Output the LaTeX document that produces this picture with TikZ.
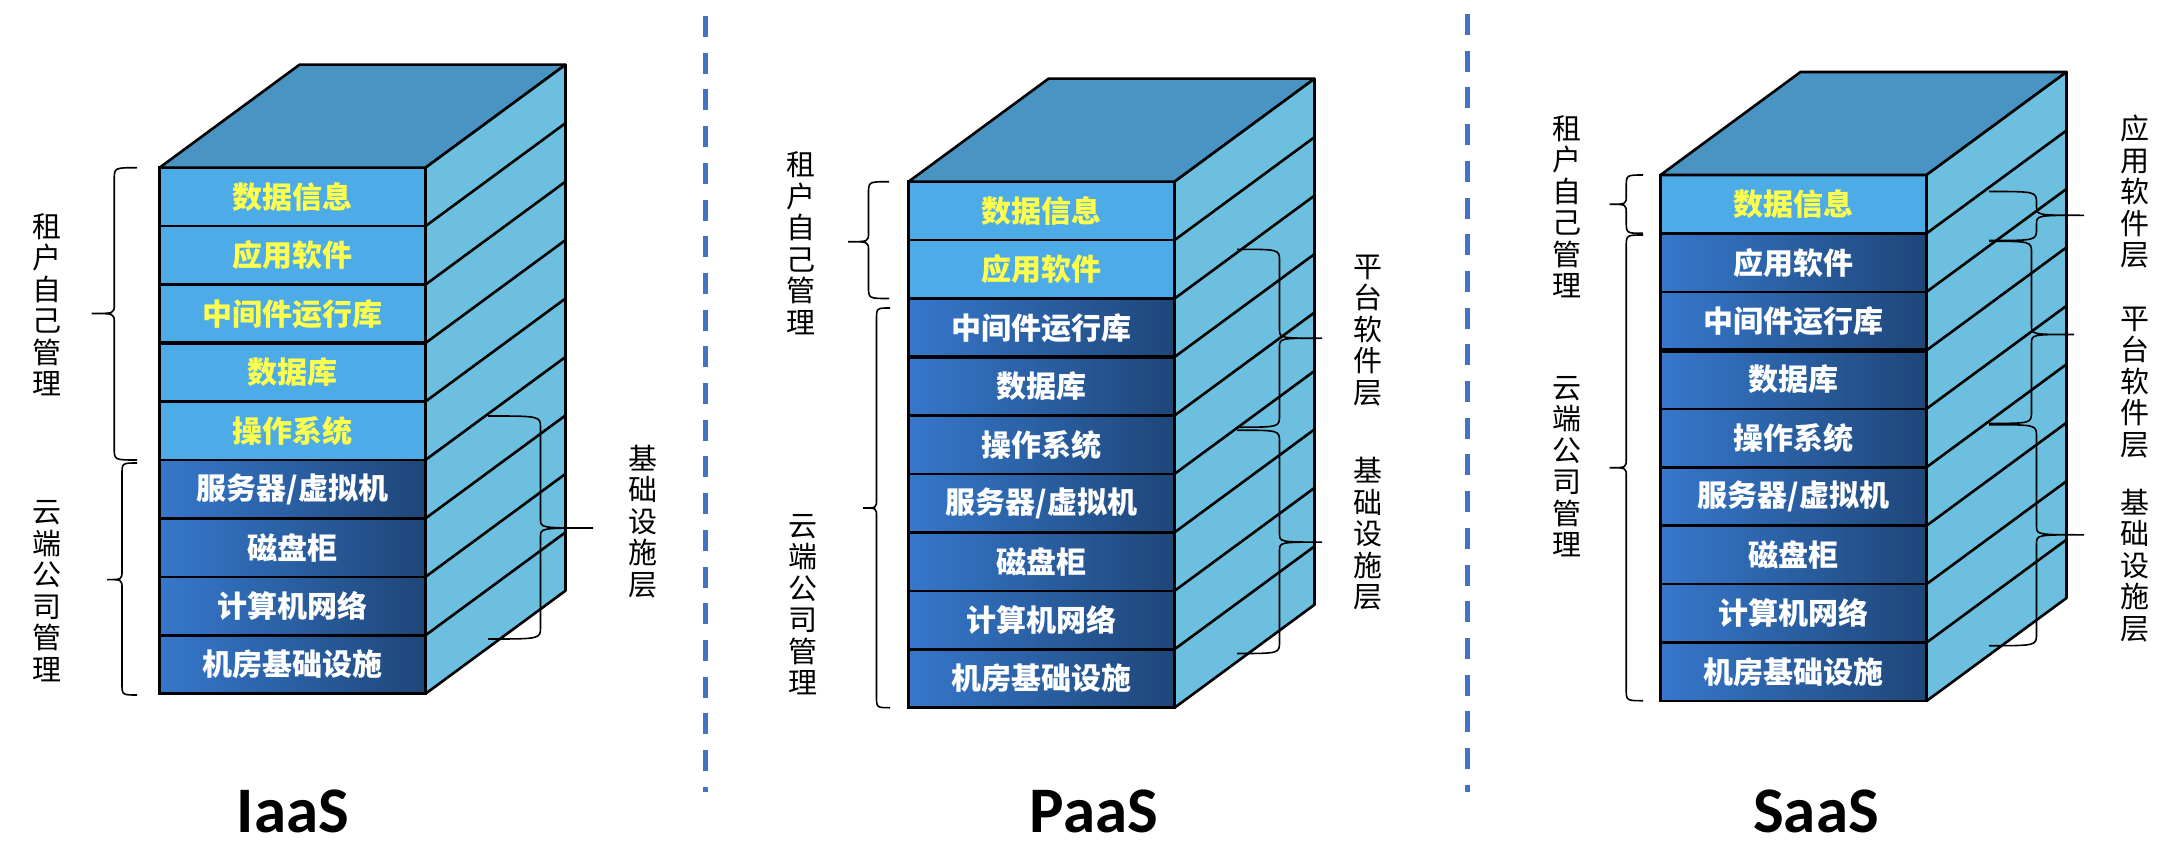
\documentclass[tikz,border=0pt]{standalone}
\usepackage{fontspec}
\setmainfont{Carlito}
\newfontfamily\cjk{Noto Sans CJK SC}
\usetikzlibrary{
  positioning
}
\definecolor{topface}{HTML}{4994C2}
\definecolor{sideface}{HTML}{6CBFDE}
\definecolor{lightrow}{HTML}{4DACE8}
\definecolor{rowyellow}{HTML}{FFFF4D}
\definecolor{deepL}{HTML}{3678CC}
\definecolor{deepR}{HTML}{1E4678}
\definecolor{sepblue}{HTML}{4472C4}

% curly brace: end x, top y, bottom y, tip x, tip y
\newcommand{\curly}[5]{%
  \pgfmathsetmacro{\cmid}{(#1+#4)/2}%
  \draw[brc] (#1,#2) .. controls (\cmid,#2) .. (\cmid,#2+12)
    -- (\cmid,#5-9) .. controls (\cmid,#5) .. (#4,#5)
    .. controls (\cmid,#5) .. (\cmid,#5+9)
    -- (\cmid,#3-12) .. controls (\cmid,#3) .. (#1,#3);}

\begin{document}
\begin{tikzpicture}[
  x=1pt, y=-1pt,
  slab/.style={draw, line width=2.6pt, minimum width=266pt, minimum height=58.45pt,
               inner sep=0pt, outer sep=0pt, font=\cjk\bfseries\fontsize{30}{32}\selectfont},
  tenant/.style={slab, fill=lightrow, text=rowyellow},
  vendor/.style={slab, left color=deepL, right color=deepR, text=white},
  boxface/.style={draw, line width=2.6pt, line join=round},
  sidelabel/.style={align=center, inner sep=0pt, font=\cjk\fontsize{29}{31.5}\selectfont},
  stacktitle/.style={anchor=base, inner sep=0pt, font=\bfseries\fontsize{65}{70}\selectfont},
  brc/.style={line width=1.6pt},
  divider/.style={sepblue, line width=5pt, dash pattern=on 21pt off 15.7pt}
]
  \useasboundingbox (0,0) rectangle (2164,864);

  % IaaS stack
  \node[tenant, anchor=north west] (i1) at (159.5,167.7) {数据信息};
  \node[tenant, below=0pt of i1] (i2) {应用软件};
  \node[tenant, below=0pt of i2] (i3) {中间件运行库};
  \node[tenant, below=0pt of i3] (i4) {数据库};
  \node[tenant, below=0pt of i4] (i5) {操作系统};
  \node[vendor, below=0pt of i5] (i6) {服务器/虚拟机};
  \node[vendor, below=0pt of i6] (i7) {磁盘柜};
  \node[vendor, below=0pt of i7] (i8) {计算机网络};
  \node[vendor, below=0pt of i8] (i9) {机房基础设施};

  % PaaS stack
  \node[tenant, anchor=north west] (p1) at (908.5,181.7) {数据信息};
  \node[tenant, below=0pt of p1] (p2) {应用软件};
  \node[vendor, below=0pt of p2] (p3) {中间件运行库};
  \node[vendor, below=0pt of p3] (p4) {数据库};
  \node[vendor, below=0pt of p4] (p5) {操作系统};
  \node[vendor, below=0pt of p5] (p6) {服务器/虚拟机};
  \node[vendor, below=0pt of p6] (p7) {磁盘柜};
  \node[vendor, below=0pt of p7] (p8) {计算机网络};
  \node[vendor, below=0pt of p8] (p9) {机房基础设施};

  % SaaS stack
  \node[tenant, anchor=north west] (s1) at (1660.5,175) {数据信息};
  \node[vendor, below=0pt of s1] (s2) {应用软件};
  \node[vendor, below=0pt of s2] (s3) {中间件运行库};
  \node[vendor, below=0pt of s3] (s4) {数据库};
  \node[vendor, below=0pt of s4] (s5) {操作系统};
  \node[vendor, below=0pt of s5] (s6) {服务器/虚拟机};
  \node[vendor, below=0pt of s6] (s7) {磁盘柜};
  \node[vendor, below=0pt of s7] (s8) {计算机网络};
  \node[vendor, below=0pt of s8] (s9) {机房基础设施};

  % Top and side faces
  \foreach \st in {i,p,s} {
    \draw[boxface, fill=topface] (\st1.north west) -- ++(140,-103) -- ++(266,0)
      -- (\st1.north east) -- cycle;
    \draw[boxface, fill=sideface] (\st1.north east) -- ++(140,-103) -- ++(0,526)
      -- (\st9.south east) -- cycle;
    \foreach \k in {1,...,8}
      \draw[boxface] (\st\k.south east) -- ++(140,-103);
    \draw[line width=4.5pt] (\st3.south west) -- (\st3.south east);
  }

  % Braces
  \curly{137}{167.7}{460}{91.5}{313.5}
  \curly{137}{463}{695}{107}{579.6}
  \curly{488}{416}{639}{593}{528}

  \curly{889}{181.7}{298.5}{848}{241.7}
  \curly{890}{308}{707.7}{863}{508}
  \curly{1237}{249.3}{427.2}{1322}{338.2}
  \curly{1237}{430.2}{653.5}{1322}{542.1}

  \curly{1643}{175}{233.3}{1609.5}{204.3}
  \curly{1643}{235}{700.7}{1609.5}{467.7}
  \curly{1989}{191.5}{240.5}{2084}{215.3}
  \curly{1989}{241.3}{423.4}{2074}{334.5}
  \curly{1989}{424.7}{645.7}{2084}{534.8}

  % Labels
  \node[sidelabel] (iown) at (46.9,304.5) {租\\户\\自\\己\\管\\理};
  \node[sidelabel] (icloud) at (46.9,591) {云\\端\\公\\司\\管\\理};
  \node[sidelabel] (iinfra) at (643,521.5) {基\\础\\设\\施\\层};

  \node[sidelabel] (pown) at (801,243) {租\\户\\自\\己\\管\\理};
  \node[sidelabel] (pcloud) at (803,604.5) {云\\端\\公\\司\\管\\理};
  \node[sidelabel] (pplat) at (1368,330.5) {平\\台\\软\\件\\层};
  \node[sidelabel] (pinfra) at (1368,534) {基\\础\\设\\施\\层};

  \node[sidelabel] (sown) at (1566.7,206.6) {租\\户\\自\\己\\管\\理};
  \node[sidelabel] (scloud) at (1566.7,466.8) {云\\端\\公\\司\\管\\理};
  \node[sidelabel] (sapp) at (2135,191.5) {应\\用\\软\\件\\层};
  \node[sidelabel] (splat) at (2135,382.2) {平\\台\\软\\件\\层};
  \node[sidelabel] (sinfra) at (2135,565.3) {基\\础\\设\\施\\层};

  \node[stacktitle] (tiaas) at (293,832) {IaaS};
  \node[stacktitle] (tpaas) at (1094,832) {PaaS};
  \node[stacktitle] (tsaas) at (1816,832) {SaaS};

  % Dividers
  \draw[divider] (705,16) -- (705,792);
  \draw[divider] (1467,14) -- (1467,792);
\end{tikzpicture}
\end{document}
